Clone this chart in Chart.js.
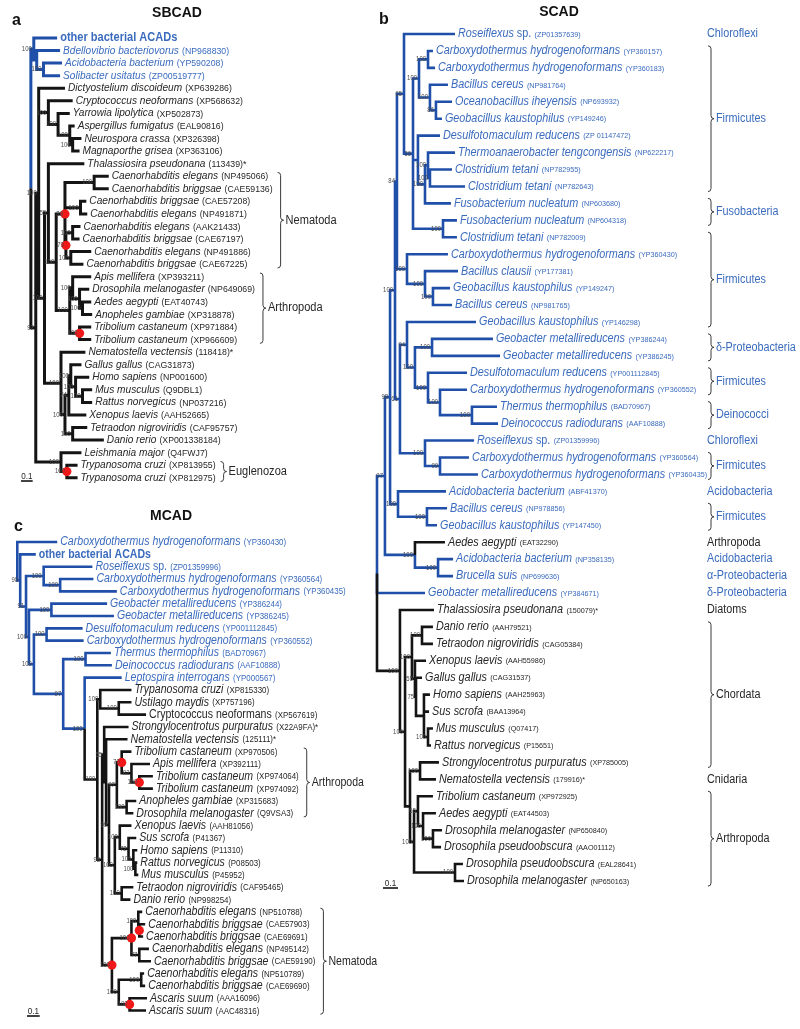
<!DOCTYPE html>
<html>
<head>
<meta charset="utf-8">
<script src="https://cdn.jsdelivr.net/npm/chart.js@4.4.1/dist/chart.umd.min.js"></script>
<style>
  html, body { margin: 0; padding: 0; background: #fff; }
  body { position: relative; width: 800px; height: 1029px; overflow: hidden; }
  canvas { position: absolute; }
  #scad { left: 330px; top: 0; }
  #sbcad { left: 0; top: 0; }
  #mcad { left: 0; top: 505px; }
</style>
</head>
<body>
<canvas id="scad" width="470" height="900"></canvas>
<canvas id="sbcad" width="340" height="505"></canvas>
<canvas id="mcad" width="380" height="524"></canvas>
<script>
// ---- data -------------------------------------------------------------
// tree nodes: [depth (subst./site from root), bootstrap, duplication?, ...children]
// a child is either a nested node or a leaf index; leaf depth comes from *Tips

// a: SBCAD
const sbcadNames = ["other bacterial ACADs", "Bdellovibrio bacteriovorus", "Acidobacteria bacterium", "Solibacter usitatus",
  "Dictyostelium discoideum", "Cryptococcus neoformans", "Yarrowia lipolytica", "Aspergillus fumigatus", "Neurospora crassa",
  "Magnaporthe grisea", "Thalassiosira pseudonana", "Caenorhabditis elegans", "Caenorhabditis briggsae", "Caenorhabditis briggsae",
  "Caenorhabditis elegans", "Caenorhabditis elegans", "Caenorhabditis briggsae", "Caenorhabditis elegans", "Caenorhabditis briggsae",
  "Apis mellifera", "Drosophila melanogaster", "Aedes aegypti", "Anopheles gambiae", "Tribolium castaneum", "Tribolium castaneum",
  "Nematostella vectensis", "Gallus gallus", "Homo sapiens", "Mus musculus", "Rattus norvegicus", "Xenopus laevis",
  "Tetraodon nigroviridis", "Danio rerio", "Leishmania major", "Trypanosoma cruzi", "Trypanosoma cruzi"];
const sbcadIds = ["", "NP968830", "YP590208", "ZP00519777", "XP639286", "XP568632", "XP502873", "EAL90816", "XP326398",
  "XP363106", "113439*", "NP495066", "CAE59136", "CAE57208", "NP491871", "AAK21433", "CAE67197", "NP491886", "CAE67225",
  "XP393211", "NP649069", "EAT40743", "XP318878", "XP971884", "XP966609", "118418*", "CAG31873", "NP001600", "Q9DBL1",
  "NP037216", "AAH52665", "CAF95757", "XP001338184", "Q4FWJ7", "XP813955", "XP812975"];
const sbcadTips = [0.225, 0.25, 0.267, 0.25, 0.292, 0.358, 0.333, 0.375, 0.433, 0.417, 0.458, 0.667, 0.667, 0.475,
  0.483, 0.425, 0.417, 0.517, 0.45, 0.517, 0.5, 0.517, 0.525, 0.517, 0.517, 0.467, 0.433, 0.5, 0.525, 0.525, 0.475,
  0.483, 0.625, 0.433, 0.4, 0.4];
const sbcadBacteria = [0, 1, 2, 3];
const sbcadTree =
  [0, "", 0,
    [0.025, "100", 0, 0,
      [0.05, "", 0, 1,
        [0.108, "100", 0, 2, 3]]],
    [0.042, "92", 0,
      [0.067, "100", 0, 4,
        [0.15, "100", 0, 5,
          [0.233, "100", 0, 6,
            [0.333, "100", 0, 7,
              [0.358, "100", 0, 8, 9]]]],
        [0.117, "100", 0,
          [0.15, "55", 0, 10,
            [0.217, "100", 0,
              [0.292, "89", 1,
                [0.542, "100", 0, 11, 12],
                [0.425, "100", 0, 13, 14],
                [0.3, "79", 1,
                  [0.358, "100", 0, 15, 16],
                  [0.342, "100", 0, 17, 18]]],
              [0.333, "100", 0,
                [0.358, "100", 0, 19,
                  [0.417, "100", 0, 20,
                    [0.442, "100", 0, 21, 22]]],
                [0.417, "100", 1, 23, 24]]]],
          [0.258, "100", 0, 25,
            [0.292, "100", 0,
              [0.325, "74", 0,
                [0.342, "100", 0, 26,
                  [0.383, "100", 0, 27,
                    [0.442, "100", 0, 28, 29]]],
                30],
              [0.358, "100", 0, 31, 32]]]]],
      [0.258, "100", 0, 33,
        [0.308, "100", 1, 34, 35]]]];
const sbcadClades = ["Nematoda", "Arthropoda", "Euglenozoa"];
const sbcadCladeFirst = [11, 19, 34];
const sbcadCladeLast = [18, 24, 35];

// b: SCAD
const scadNames = ["Roseiflexus sp.", "Carboxydothermus hydrogenoformans", "Carboxydothermus hydrogenoformans", "Bacillus cereus",
  "Oceanobacillus iheyensis", "Geobacillus kaustophilus", "Desulfotomaculum reducens", "Thermoanaerobacter tengcongensis",
  "Clostridium tetani", "Clostridium tetani", "Fusobacterium nucleatum", "Fusobacterium nucleatum", "Clostridium tetani",
  "Carboxydothermus hydrogenoformans", "Bacillus clausii", "Geobacillus kaustophilus", "Bacillus cereus", "Geobacillus kaustophilus",
  "Geobacter metallireducens", "Geobacter metallireducens", "Desulfotomaculum reducens", "Carboxydothermus hydrogenoformans",
  "Thermus thermophilus", "Deinococcus radiodurans", "Roseiflexus sp.", "Carboxydothermus hydrogenoformans",
  "Carboxydothermus hydrogenoformans", "Acidobacteria bacterium", "Bacillus cereus", "Geobacillus kaustophilus", "Aedes aegypti",
  "Acidobacteria bacterium", "Brucella suis", "Geobacter metallireducens", "Thalassiosira pseudonana", "Danio rerio",
  "Tetraodon nigroviridis", "Xenopus laevis", "Gallus gallus", "Homo sapiens", "Sus scrofa", "Mus musculus", "Rattus norvegicus",
  "Strongylocentrotus purpuratus", "Nematostella vectensis", "Tribolium castaneum", "Aedes aegypti", "Drosophila melanogaster",
  "Drosophila pseudoobscura", "Drosophila pseudoobscura", "Drosophila melanogaster"];
const scadIds = ["ZP01357639", "YP360157", "YP360183", "NP981764", "NP693932", "YP149246", "ZP 01147472", "NP622217",
  "NP782955", "NP782643", "NP603680", "NP604318", "NP782009", "YP360430", "YP177381", "YP149247", "NP981765", "YP146298",
  "YP386244", "YP386245", "YP001112845", "YP360552", "BAD70967", "AAF10888", "ZP01359996", "YP360564", "YP360435",
  "ABF41370", "NP978856", "YP147450", "EAT32290", "NP358135", "NP699636", "YP384671", "150079*", "AAH79521", "CAG05384",
  "AAH55986", "CAG31537", "AAH25963", "BAA13964", "Q07417", "P15651", "XP785005", "179916*", "XP972925", "EAT44503",
  "NP650840", "AAO01112", "EAL28641", "NP650163"];
const scadTips = [0.52, 0.373, 0.387, 0.473, 0.5, 0.433, 0.42, 0.52, 0.5, 0.587, 0.493, 0.533, 0.533, 0.473, 0.54,
  0.487, 0.5, 0.66, 0.773, 0.82, 0.6, 0.6, 0.8, 0.807, 0.647, 0.613, 0.673, 0.46, 0.467, 0.4, 0.453, 0.507, 0.507,
  0.32, 0.38, 0.373, 0.373, 0.327, 0.3, 0.353, 0.347, 0.373, 0.36, 0.413, 0.393, 0.373, 0.393, 0.433, 0.427, 0.573, 0.58];
const scadBacteria = [0, 1, 2, 3, 4, 5, 6, 7, 8, 9, 10, 11, 12, 13, 14, 15, 16, 17, 18, 19, 20, 21, 22, 23, 24, 25, 26,
  27, 28, 29, 31, 32, 33];
const scadTree =
  [0, "", 0,
    [0.053, "97", 0,
      [0.087, "98", 0,
        [0.12, "100", 0,
          [0.133, "84", 0,
            [0.18, "65", 0, 0,
              [0.24, "56", 0,
                [0.28, "100", 0,
                  [0.34, "100", 0, 1, 2],
                  [0.353, "100", 0, 3,
                    [0.393, "86", 0, 4, 5]]],
                [0.273, "", 0, 6,
                  [0.32, "100", 0,
                    [0.34, "100", 0, 7,
                      [0.353, "100", 0, 8, 9]],
                    10]],
                [0.44, "100", 0, 11, 12]]],
            [0.2, "100", 0, 13,
              [0.32, "100", 0, 14,
                [0.373, "100", 0, 15, 16]]]],
          [0.153, "61", 0,
            [0.2, "94", 0, 17,
              [0.253, "100", 0,
                [0.367, "100", 0, 18, 19],
                [0.34, "100", 0, 20,
                  [0.42, "100", 0, 21,
                    [0.633, "100", 0, 22, 23]]]]],
            [0.32, "100", 0, 24,
              [0.42, "99", 0, 25, 26]]]],
        [0.14, "100", 0, 27,
          [0.333, "100", 0, 28, 29]]],
      [0.253, "100", 0, 30,
        [0.407, "100", 0, 31, 32]]],
    33,
    [0.153, "100", 0, 34,
      [0.187, "100", 0,
        [0.233, "100", 0,
          [0.3, "100", 0, 35, 36],
          [0.253, "55", 0, 37,
            [0.26, "75", 0, 38,
              [0.313, "", 0, 39, 40,
                [0.34, "100", 0, 41, 42]]]]],
        [0.22, "", 0,
          [0.287, "100", 0, 43, 44],
          [0.247, "100", 0,
            [0.273, "65", 0, 45,
              [0.307, "100", 0, 46,
                [0.373, "100", 0, 47, 48]]],
            [0.52, "100", 0, 49, 50]]]]]];
const scadClades = ["Chloroflexi", "Firmicutes", "Fusobacteria", "Firmicutes", "δ-Proteobacteria", "Firmicutes", "Deinococci",
  "Chloroflexi", "Firmicutes", "Acidobacteria", "Firmicutes", "Arthropoda", "Acidobacteria", "α-Proteobacteria",
  "δ-Proteobacteria", "Diatoms", "Chordata", "Cnidaria", "Arthropoda"];
const scadCladeFirst = [0, 1, 10, 12, 18, 20, 22, 24, 25, 27, 28, 30, 31, 32, 33, 34, 35, 44, 45];
const scadCladeLast = [0, 9, 11, 17, 19, 21, 23, 24, 26, 27, 29, 30, 31, 32, 33, 34, 43, 44, 50];

// c: MCAD
const mcadNames = ["Carboxydothermus hydrogenoformans", "other bacterial ACADs", "Roseiflexus sp.",
  "Carboxydothermus hydrogenoformans", "Carboxydothermus hydrogenoformans", "Geobacter metallireducens",
  "Geobacter metallireducens", "Desulfotomaculum reducens", "Carboxydothermus hydrogenoformans", "Thermus thermophilus",
  "Deinococcus radiodurans", "Leptospira interrogans", "Trypanosoma cruzi", "Ustilago maydis", "Cryptococcus neoformans",
  "Strongylocentrotus purpuratus", "Nematostella vectensis", "Tribolium castaneum", "Apis mellifera", "Tribolium castaneum",
  "Tribolium castaneum", "Anopheles gambiae", "Drosophila melanogaster", "Xenopus laevis", "Sus scrofa", "Homo sapiens",
  "Rattus norvegicus", "Mus musculus", "Tetraodon nigroviridis", "Danio rerio", "Caenorhabditis elegans",
  "Caenorhabditis briggsae", "Caenorhabditis briggsae", "Caenorhabditis elegans", "Caenorhabditis briggsae",
  "Caenorhabditis elegans", "Caenorhabditis briggsae", "Ascaris suum", "Ascaris suum"];
const mcadIds = ["YP360430", "", "ZP01359996", "YP360564", "YP360435", "YP386244", "YP386245", "YP001112845", "YP360552",
  "BAD70967", "AAF10888", "YP000567", "XP815330", "XP757196", "XP567619", "X22A9FA*", "125111*", "XP970506", "XP392111",
  "XP974064", "XP974092", "XP315683", "Q9VSA3", "AAH81056", "P41367", "P11310", "P08503", "P45952", "CAF95465",
  "NP998254", "NP510788", "CAE57903", "CAE69691", "NP495142", "CAE59190", "NP510789", "CAE69690", "AAA16096", "AAC48316"];
const mcadTips = [0.315, 0.146, 0.592, 0.6, 0.785, 0.708, 0.762, 0.515, 0.523, 0.738, 0.746, 0.823, 0.9, 0.9, 1.015,
  0.877, 0.869, 0.9, 1.046, 1.069, 1.069, 0.938, 0.915, 0.9, 0.938, 0.946, 0.946, 0.954, 0.915, 0.892, 0.985, 1.008,
  0.992, 1.038, 1.054, 1.0, 1.008, 1.023, 1.015];
const mcadBacteria = [0, 1, 2, 3, 4, 5, 6, 7, 8, 9, 10, 11];
const mcadUpright = [14];
const mcadTree =
  [0, "", 0, 0,
    [0.023, "98", 0, 1,
      [0.069, "91", 0,
        [0.208, "100", 0, 2,
          [0.338, "100", 0, 3, 4]],
        [0.092, "100", 0,
          [0.269, "100", 0, 5, 6],
          [0.131, "100", 0,
            [0.231, "100", 0, 7, 8],
            [0.362, "97", 0,
              [0.538, "100", 0, 9, 10],
              [0.531, "100", 0, 11,
                [0.631, "100", 0,
                  [0.654, "100", 0, 12,
                    [0.8, "100", 0, 13, 14]],
                  [0.669, "98", 0,
                    [0.685, "55", 0, 15,
                      [0.7, "", 0, 16,
                        [0.723, "99", 0,
                          [0.785, "97", 0,
                            [0.823, "70", 1, 17,
                              [0.9, "82", 0, 18,
                                [0.962, "100", 1, 19, 20]]],
                            [0.862, "100", 0, 21, 22]],
                          [0.769, "100", 0,
                            [0.808, "100", 0, 23,
                              [0.877, "72", 0, 24,
                                [0.915, "100", 0, 25,
                                  [0.931, "100", 0, 26, 27]]]],
                            [0.823, "100", 0, 28, 29]]]]],
                    [0.746, "100", 1,
                      [0.9, "100", 1,
                        [0.954, "100", 0, 30,
                          [0.962, "", 1, 31, 32]],
                        [0.962, "77", 0, 33, 34]],
                      [0.8, "100", 0,
                        [0.977, "100", 0, 35, 36],
                        [0.885, "100", 1, 37, 38]]]]]]]]]]]];
const mcadClades = ["Arthropoda", "Nematoda"];
const mcadCladeFirst = [17, 30];
const mcadCladeLast = [22, 38];

const scaleBarValue = 0.1;

// ---- drawing ----------------------------------------------------------
const FONT = '"Liberation Sans", Arial, sans-serif';
const BLUE_LINE = '#1f4fa8';
const BLUE_TEXT = '#3a6bbd';
const BLACK_LINE = '#141414';
const BLACK_TEXT = '#262626';

function layout(node, tips, bacteria) {
  if (typeof node === 'number') {
    return { x: tips[node], y: node, bact: bacteria.includes(node) };
  }
  const [x, support, dup, ...kids] = node;
  const children = kids.map(k => layout(k, tips, bacteria));
  return {
    x, support, dup, children,
    y: (children[0].y + children[children.length - 1].y) / 2,
    bact: children.some(c => c.bact)
  };
}

function collect(n, out) {
  if (!n.children) return;
  out.nodes.push(n);
  if (n.dup) out.dots.push({ x: n.x, y: n.y });
  n.children.forEach(c => {
    const path = c.bact ? out.blue : out.black;
    path.push({ x: n.x, y: n.y }, { x: n.x, y: c.y }, { x: c.x, y: c.y }, { x: null, y: null });
    collect(c, out);
  });
}

function squeezed(ctx, text, x, y, sx, align) {
  const w = ctx.measureText(text).width * sx;
  const x0 = align === 'right' ? x - w : align === 'center' ? x - w / 2 : x;
  ctx.save();
  ctx.translate(x0, y);
  ctx.scale(sx, 1);
  ctx.textAlign = 'left';
  ctx.fillText(text, 0, 0);
  ctx.restore();
  return x0 + w;
}

function drawLeaf(ctx, x, y, name, id, color, t, upright) {
  ctx.fillStyle = color;
  ctx.textBaseline = 'middle';
  if (!id) {
    ctx.font = `bold ${t.bold}px ${FONT}`;
    return squeezed(ctx, name, x, y, t.sx);
  }
  let italic = name, plain = '';
  if (name.endsWith(' sp.')) { italic = name.slice(0, -4); plain = ' sp.'; }
  ctx.font = `${upright ? '' : 'italic '}${t.name}px ${FONT}`;
  let end = squeezed(ctx, italic, x, y, t.sx);
  if (plain) {
    ctx.font = `${t.name}px ${FONT}`;
    end = squeezed(ctx, plain, end, y, t.sx);
  }
  ctx.font = `${t.id}px ${FONT}`;
  const idText = id.endsWith('*') ? `(${id.slice(0, -1)})*` : `(${id})`;
  return squeezed(ctx, idText, end + t.name * 0.28, y + 0.5, t.sx);
}

function drawBrace(ctx, x, y0, y1) {
  const ym = (y0 + y1) / 2, k = Math.min(3, (y1 - y0) / 6);
  ctx.beginPath();
  ctx.moveTo(x, y0);
  ctx.quadraticCurveTo(x + 3, y0, x + 3, y0 + k);
  ctx.lineTo(x + 3, ym - k);
  ctx.quadraticCurveTo(x + 3, ym, x + 6, ym);
  ctx.quadraticCurveTo(x + 3, ym, x + 3, ym + k);
  ctx.lineTo(x + 3, y1 - k);
  ctx.quadraticCurveTo(x + 3, y1, x, y1);
  ctx.stroke();
}

function drawTexts(chart, p, nodes) {
  const { ctx } = chart;
  const xs = chart.scales.x, ys = chart.scales.y;
  const px = v => xs.getPixelForValue(v);
  const py = v => ys.getPixelForValue(v);
  const t = p.text;
  ctx.save();

  // leaf labels
  const ends = p.names.map((name, i) =>
    drawLeaf(ctx, px(p.tips[i]) + 3, py(i), name, p.ids[i],
      p.bacteria.includes(i) ? BLUE_TEXT : BLACK_TEXT, t, (p.upright || []).includes(i)));

  // bootstrap values
  ctx.font = `${t.support}px ${FONT}`;
  ctx.fillStyle = '#4a4a4a';
  ctx.textBaseline = 'middle';
  nodes.forEach(n => {
    if (n.support) squeezed(ctx, n.support, px(n.x) - 2, py(n.y), 0.85, 'right');
  });

  // clade labels and braces
  const rowGap = py(1) - py(0);
  ctx.lineWidth = 1;
  ctx.strokeStyle = '#3a3a3a';
  p.clades.forEach((label, k) => {
    const a = p.cladeFirst[k], b = p.cladeLast[k];
    let bact = false;
    for (let i = a; i <= b; i++) if (p.bacteria.includes(i)) bact = true;
    ctx.fillStyle = bact ? BLUE_TEXT : BLACK_TEXT;
    ctx.font = `${t.clade}px ${FONT}`;
    ctx.textBaseline = 'middle';
    const bx = p.cladeX !== undefined ? p.cladeX + 1 : Math.max(...ends.slice(a, b + 1)) + 5;
    if (a === b) {
      squeezed(ctx, label, bx - 1, py(a), t.sx);
    } else {
      drawBrace(ctx, bx, py(a) - 0.3 * rowGap, py(b) + 0.3 * rowGap);
      squeezed(ctx, label, bx + 8, (py(a) + py(b)) / 2, t.sx);
    }
  });

  // scale bar
  const len = px(scaleBarValue) - px(0);
  const [sx0, sy0] = p.scaleAt;
  ctx.strokeStyle = BLACK_LINE;
  ctx.lineWidth = 1.6;
  ctx.beginPath();
  ctx.moveTo(sx0, sy0);
  ctx.lineTo(sx0 + len, sy0);
  ctx.stroke();
  ctx.fillStyle = BLACK_TEXT;
  ctx.font = `9px ${FONT}`;
  ctx.textBaseline = 'alphabetic';
  squeezed(ctx, String(scaleBarValue), sx0 + len / 2, sy0 - 2.5, 0.9, 'center');

  // title and panel letter
  ctx.fillStyle = '#111';
  ctx.textBaseline = 'middle';
  ctx.font = `bold 14px ${FONT}`;
  ctx.textAlign = 'center';
  ctx.fillText(p.title, p.titleAt[0], p.titleAt[1]);
  ctx.font = `bold 16px ${FONT}`;
  ctx.textAlign = 'left';
  ctx.fillText(p.letter, p.letterAt[0], p.letterAt[1]);
  ctx.restore();
}

function buildPanel(p) {
  const root = layout(p.tree, p.tips, p.bacteria);
  const out = { blue: [], black: [], dots: [], nodes: [] };
  collect(root, out);
  const canvas = document.getElementById(p.id);
  const W = canvas.width, H = canvas.height;
  const lineSet = (data, color) => ({
    data, showLine: true, borderColor: color, borderWidth: p.lineWidth, pointRadius: 0,
    spanGaps: false, tension: 0, borderJoinStyle: 'miter', borderCapStyle: 'butt'
  });
  new Chart(canvas, {
    type: 'scatter',
    data: {
      datasets: [
        { data: out.dots, showLine: false, pointRadius: 4.6, pointBackgroundColor: '#f01818', pointBorderWidth: 0 },
        lineSet(out.black, BLACK_LINE),
        lineSet(out.blue, BLUE_LINE)
      ]
    },
    options: {
      responsive: false,
      animation: false,
      events: [],
      layout: { padding: 0 },
      plugins: { legend: { display: false }, tooltip: { enabled: false } },
      scales: {
        x: { type: 'linear', display: false, min: -p.rootPx / p.ppu, max: (W - p.rootPx) / p.ppu },
        y: { type: 'linear', display: false, reverse: true, min: -p.row0 / p.rowPx, max: (H - p.row0) / p.rowPx }
      }
    },
    plugins: [{ id: 'treeText', afterDatasetsDraw: chart => drawTexts(chart, p, out.nodes) }]
  });
}

buildPanel({
  id: 'sbcad', tree: sbcadTree, tips: sbcadTips, names: sbcadNames, ids: sbcadIds, bacteria: sbcadBacteria,
  clades: sbcadClades, cladeFirst: sbcadCladeFirst, cladeLast: sbcadCladeLast,
  rootPx: 27, ppu: 120, row0: 34, rowPx: 12.8, lineWidth: 3,
  text: { name: 11, id: 9.5, bold: 12, sx: 0.92, support: 7, clade: 12 },
  scaleAt: [21, 481], title: 'SBCAD', titleAt: [177, 13], letter: 'a', letterAt: [12, 21]
});

buildPanel({
  id: 'scad', tree: scadTree, tips: scadTips, names: scadNames, ids: scadIds, bacteria: scadBacteria,
  clades: scadClades, cladeFirst: scadCladeFirst, cladeLast: scadCladeLast, cladeX: 377,
  rootPx: 47, ppu: 150, row0: 34, rowPx: 16.94, lineWidth: 2.6,
  text: { name: 12, id: 8, bold: 12, sx: 0.9, support: 7, clade: 12 },
  scaleAt: [53, 888], title: 'SCAD', titleAt: [229, 12], letter: 'b', letterAt: [49, 20]
});

buildPanel({
  id: 'mcad', tree: mcadTree, tips: mcadTips, names: mcadNames, ids: mcadIds, bacteria: mcadBacteria,
  upright: mcadUpright, clades: mcadClades, cladeFirst: mcadCladeFirst, cladeLast: mcadCladeLast,
  rootPx: 13, ppu: 130, row0: 33, rowPx: 12.55, lineWidth: 2.6,
  text: { name: 12, id: 9, bold: 12, sx: 0.88, support: 7, clade: 12 },
  scaleAt: [27, 511], title: 'MCAD', titleAt: [171, 11], letter: 'c', letterAt: [14, 22]
});
</script>
</body>
</html>
